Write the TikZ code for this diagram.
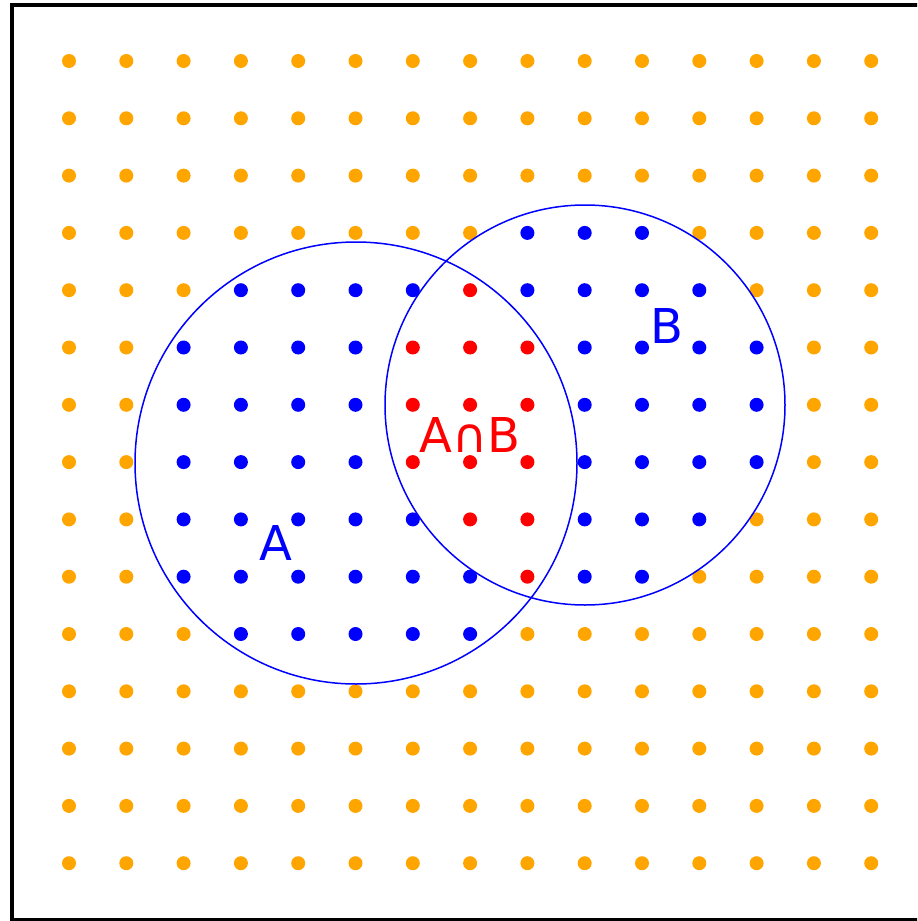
\documentclass[tikz,border=0pt]{standalone}
\usepackage{fontspec}
\setmainfont{DejaVu Sans}
\definecolor{dotorange}{HTML}{FFA500}
\begin{document}
\begin{tikzpicture}[x=0.5pt,y=-0.5pt,
  dot/.style={circle,inner sep=0pt,minimum size=7pt,draw=none},
  setcircle/.style={draw=blue,line width=0.75pt},
  setlabel/.style={font=\fontsize{24}{28}\selectfont,inner sep=0pt}]
\useasboundingbox (0,0) rectangle (917,921);
\clip (0,0) rectangle (917,921);
\draw[line width=2pt] (12,4.5) rectangle (940,919.5);
\foreach \i in {0,...,14}{
  \foreach \j in {0,...,14}{
    \pgfmathtruncatemacro{\c}{((((\i-5)^2+(\j-7)^2)<14.9)?1:0) + ((((\i-9)^2+(\j-6)^2)<12.2)?2:0)}
    \ifnum\c=0 \def\col{dotorange}\else\ifnum\c=3 \def\col{red}\else\def\col{blue}\fi\fi
    \node[dot,fill=\col] (p\i-\j) at ({69+57.3*\i},{61+57.3*\j}) {};
  }
}
\node[setcircle,circle,inner sep=0pt,minimum size=221pt] (A) at (356,463) {};
\node[setcircle,circle,inner sep=0pt,minimum size=200pt] (B) at (585,405) {};
\node[setlabel,text=blue] (la) at (276,543) {A};
\node[setlabel,text=blue] (lb) at (667,326) {B};
\node[setlabel,text=red] (lab) at (470,435) {A∩B};
\end{tikzpicture}
\end{document}
